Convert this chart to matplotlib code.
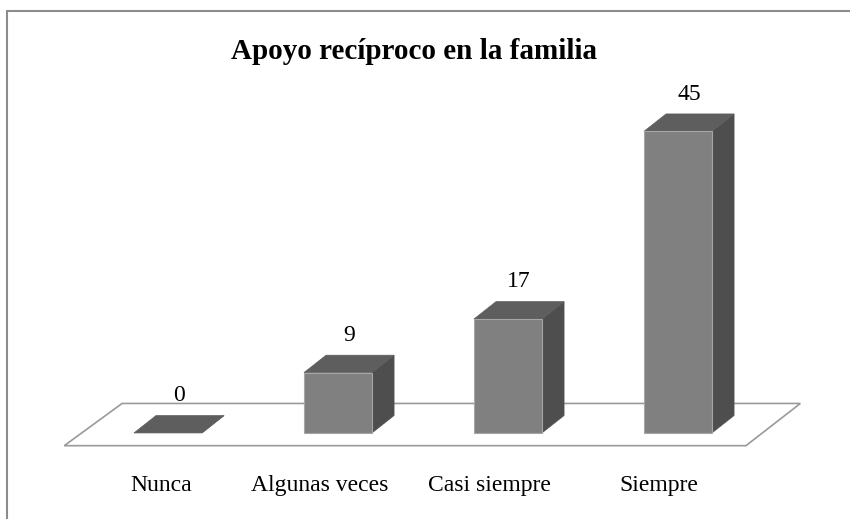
'''
Apoyo recíproco en la familia - 3D style bar chart.
'''

import matplotlib.pyplot as plt
from matplotlib.patches import Polygon, Rectangle

categories = ["Nunca", "Algunas veces", "Casi siempre", "Siempre"]
values = [0, 9, 17, 45]
title = "Apoyo recíproco en la familia"

plt.rcParams["font.family"] = ["Liberation Serif", "DejaVu Serif"]

FRONT = "#808080"
SIDE = "#4e4e4e"
TOP = "#5e5e5e"
EDGE = "#a6a6a6"

# depth offsets for the fake 3d look (data units)
DX, DY = 0.13, 2.6
WIDTH = 0.4


def main():
    fig = plt.figure(figsize=(8.5, 5.19), dpi=100)
    ax = fig.add_axes([0, 0, 1, 1])
    ax.set_xlim(-0.988, 4.012)
    ax.set_ylim(-12.84, 64.6)
    ax.axis("off")

    # outer frame
    fig.patches.append(Rectangle((0.008, -0.01), 1.2, 0.989, transform=fig.transFigure,
                                 fill=False, edgecolor="#8c8c8c", linewidth=1.5))

    n = len(categories)
    # floor
    floor = Polygon([(-0.61, -1.9), (n - 0.6, -1.9), (n - 0.28, 4.4), (-0.27, 4.4)],
                    closed=True, facecolor="white", edgecolor="#9a9a9a", linewidth=1.2, zorder=1)
    ax.add_patch(floor)

    for i, v in enumerate(values):
        x0 = i - WIDTH / 2
        x1 = i + WIDTH / 2
        # side face
        ax.add_patch(Polygon([(x1, 0), (x1 + DX, DY), (x1 + DX, v + DY), (x1, v)],
                             closed=True, facecolor=SIDE, edgecolor=SIDE, linewidth=0.5, zorder=2))
        # top face
        ax.add_patch(Polygon([(x0, v), (x1, v), (x1 + DX, v + DY), (x0 + DX, v + DY)],
                             closed=True, facecolor=TOP, edgecolor=TOP, linewidth=0.5, zorder=3))
        # front face
        if v > 0:
            ax.bar(i, v, width=WIDTH, color=FRONT, edgecolor=EDGE, linewidth=0.8, zorder=4)
        ax.text(i + DX / 2, v + DY + 1.4, str(v), ha="center", va="bottom", fontsize=17, zorder=5)
        ax.text(i - 0.11 if i else i - 0.04, -6.3, categories[i], ha="center", va="top", fontsize=17)

    ax.text(0.487, 0.9, title, transform=fig.transFigure, ha="center", va="center",
            fontsize=21, fontweight="bold")

    fig.savefig("out.png", dpi=100)


if __name__ == "__main__":
    main()
